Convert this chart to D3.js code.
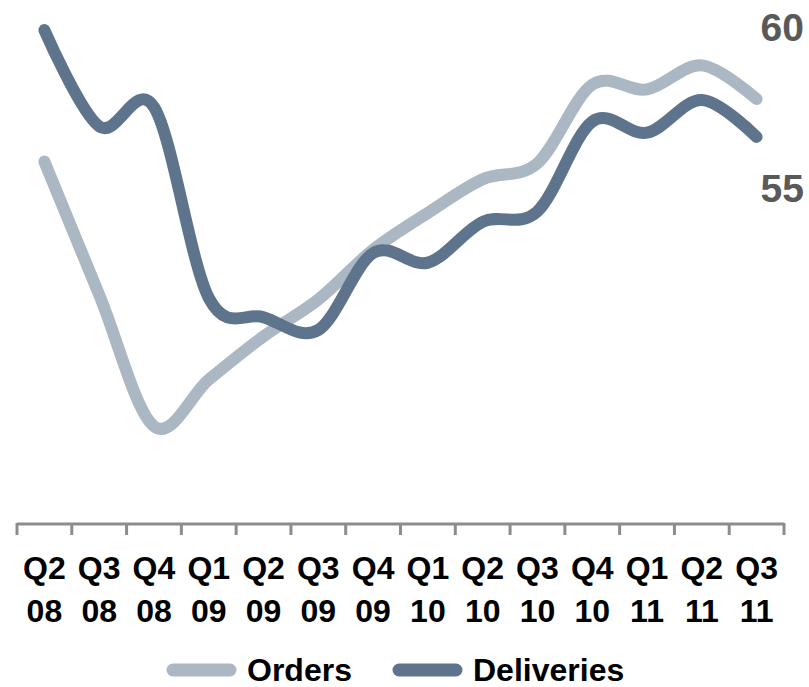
<!DOCTYPE html>
<html>
<head>
<meta charset="utf-8">
<script src="https://cdn.jsdelivr.net/npm/d3@7"></script>
<style>
  body { margin: 0; background: #fff; }
  text { font-family: "Liberation Sans", Arial, sans-serif; font-weight: bold; }
</style>
</head>
<body>
<svg id="chart" width="809" height="687"></svg>
<script>
// data
var quarters = ["Q2","Q3","Q4","Q1","Q2","Q3","Q4","Q1","Q2","Q3","Q4","Q1","Q2","Q3"];
var years    = ["08","08","08","09","09","09","09","10","10","10","10","11","11","11"];
var orders     = [55.85, 51.7, 47.6, 49.05, 50.4, 51.55, 53.1, 54.25, 55.3, 55.8, 58.25, 58.1, 58.85, 57.8];
var deliveries = [59.95, 56.95, 57.55, 51.6, 51.0, 50.6, 53.0, 52.7, 53.97, 54.3, 57.1, 56.75, 57.77, 56.62];
var yTicks = [55, 60];
var seriesNames = ["Orders", "Deliveries"];
var seriesColors = ["#abb7c3", "#5e748c"];

var svg = d3.select("#chart");
var cats = quarters.map(function(q, i){ return i; });

var x = d3.scaleBand().domain(cats).range([17, 784]).padding(0);
var y = d3.scaleLinear().domain([44.55, 60]).range([524, 28.5]);

// category axis: line with ticks on band edges
var edges = cats.map(function(c){ return x(c); }).concat([x.range()[1]]);
svg.append("line")
    .attr("x1", x.range()[0]).attr("x2", x.range()[1])
    .attr("y1", 524).attr("y2", 524)
    .attr("stroke", "#8c8c8c").attr("stroke-width", 3);
svg.selectAll("line.tick").data(edges).enter().append("line")
    .attr("class", "tick")
    .attr("x1", function(d){ return d; }).attr("x2", function(d){ return d; })
    .attr("y1", 523).attr("y2", 535)
    .attr("stroke", "#8c8c8c").attr("stroke-width", 3);

var lab = svg.selectAll("text.cat").data(cats).enter().append("text")
    .attr("class", "cat")
    .attr("text-anchor", "middle")
    .attr("font-size", 32)
    .attr("fill", "#000");
lab.append("tspan")
    .attr("x", function(d){ return x(d) + x.bandwidth()/2; })
    .attr("y", 579)
    .text(function(d){ return quarters[d]; });
lab.append("tspan")
    .attr("x", function(d){ return x(d) + x.bandwidth()/2; })
    .attr("y", 622)
    .text(function(d){ return years[d]; });

// value axis on the right, labels only
var yAxis = svg.append("g")
    .attr("transform", "translate(804,0)")
    .call(d3.axisLeft(y).tickValues(yTicks).tickSize(0).tickPadding(0));
yAxis.select(".domain").remove();
yAxis.selectAll("text")
    .attr("font-size", 39)
    .attr("font-family", "Liberation Sans, Arial, sans-serif")
    .attr("font-weight", "bold")
    .attr("fill", "#595959");

// lines
var line = d3.line()
    .x(function(d, i){ return x(i) + x.bandwidth()/2; })
    .y(function(d){ return y(d); })
    .curve(d3.curveCardinal.tension(0));

var allSeries = [orders, deliveries];
svg.selectAll("path.series").data(allSeries).enter().append("path")
    .attr("class", "series")
    .attr("d", line)
    .attr("fill", "none")
    .attr("stroke", function(d, i){ return seriesColors[i]; })
    .attr("stroke-width", 12)
    .attr("stroke-linecap", "round")
    .attr("stroke-linejoin", "round");

// legend
var legX = [167, 393];
var leg = svg.selectAll("g.leg").data(seriesNames).enter().append("g")
    .attr("class", "leg")
    .attr("transform", function(d, i){ return "translate(" + legX[i] + ",670)"; });
leg.append("line")
    .attr("x1", 6).attr("x2", 63).attr("y1", 0).attr("y2", 0)
    .attr("stroke", function(d, i){ return seriesColors[i]; })
    .attr("stroke-width", 13)
    .attr("stroke-linecap", "round");
leg.append("text")
    .attr("x", 80).attr("y", 11)
    .attr("font-size", 32)
    .attr("fill", "#000")
    .text(function(d){ return d; });
</script>
</body>
</html>
